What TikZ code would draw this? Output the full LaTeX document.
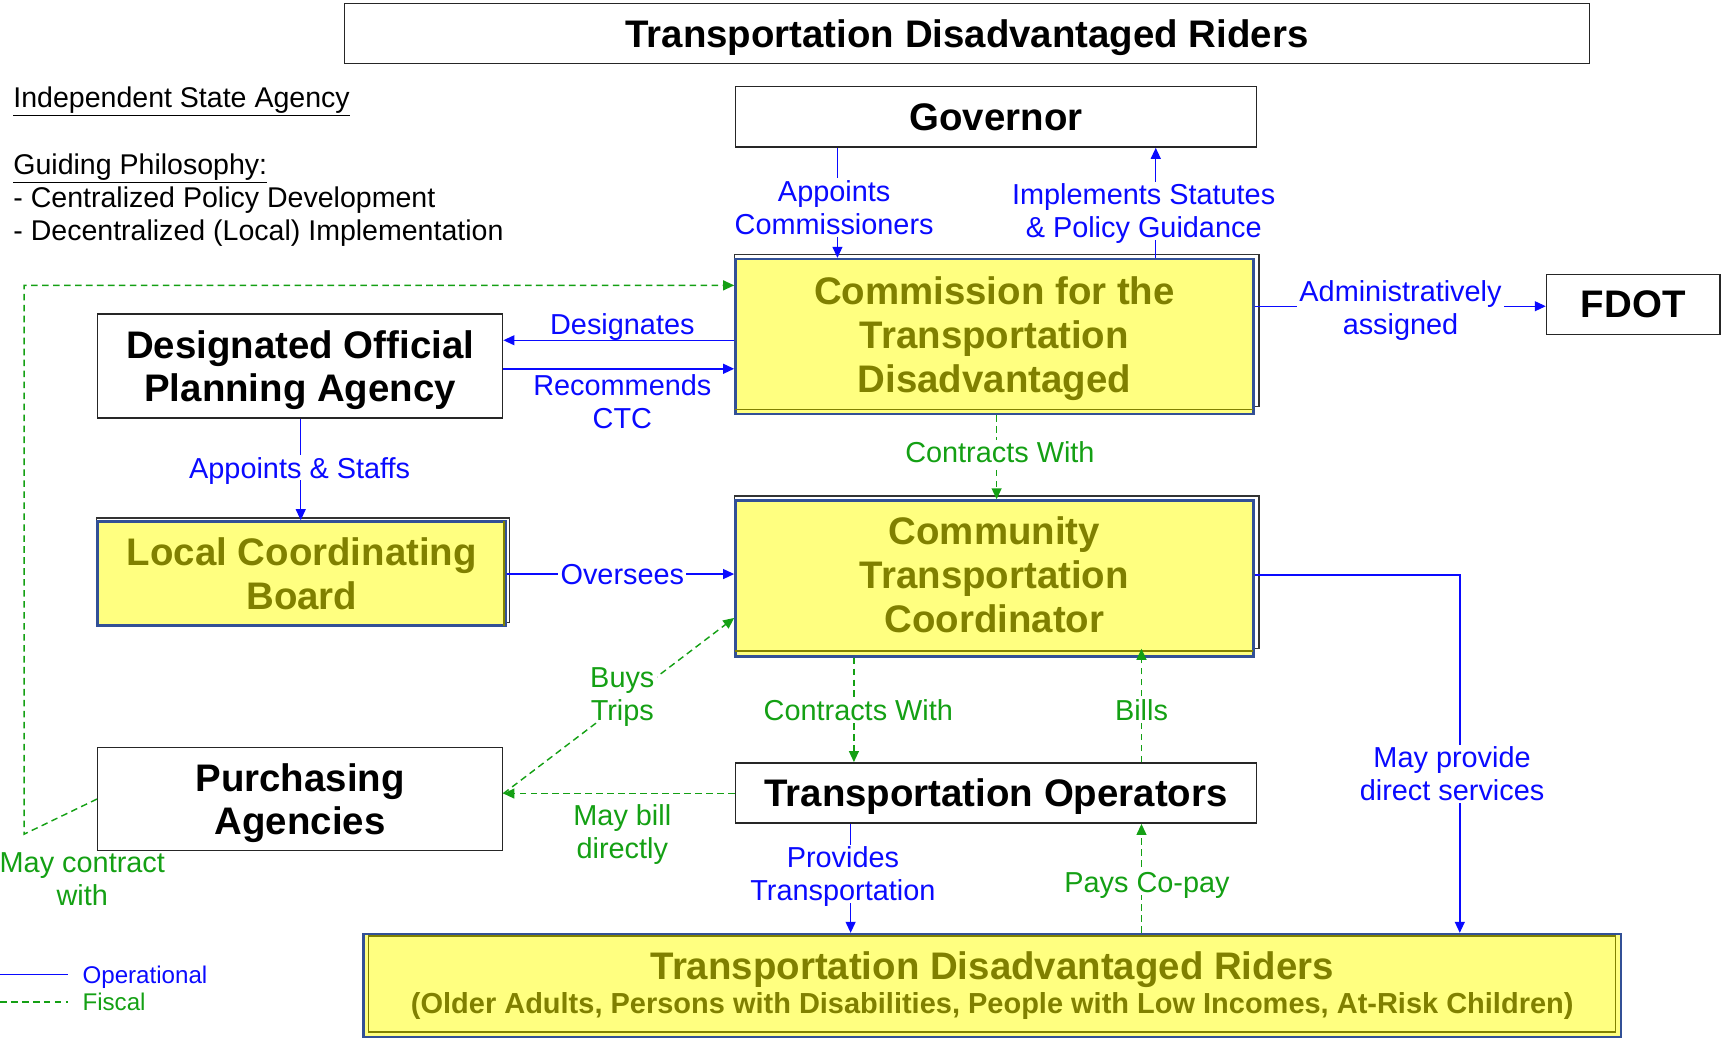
\documentclass[tikz,border=0pt]{standalone}
\usepackage{fontspec}
\setmainfont{Liberation Sans}
\usetikzlibrary{arrows.meta,backgrounds}
\definecolor{lblue}{RGB}{10,10,255}
\definecolor{lgreen}{RGB}{20,160,20}
\definecolor{oliv}{RGB}{128,128,0}
\definecolor{byel}{RGB}{255,255,128}
\definecolor{bblue}{RGB}{50,80,150}
\begin{document}
\begin{tikzpicture}[x=1pt,y=-1pt,
  box/.style={draw=black!85, line width=1.3pt, fill=white, inner sep=0pt, align=center,
    text depth=0pt, font=\fontsize{35}{40}\selectfont\bfseries},
  ybox/.style={draw=bblue, line width=2.2pt, fill=byel, inner sep=0pt, align=center,
    text depth=0pt, text=oliv, font=\fontsize{35}{40}\selectfont\bfseries},
  tipa/.style={-{Triangle[length=10pt,width=9pt]}},
  op/.style={draw=lblue, line width=1.3pt, tipa},
  fis/.style={draw=lgreen, line width=1.3pt, dash pattern=on 6pt off 4pt, tipa},
  lab/.style={font=\fontsize{26.3}{30}\selectfont, align=center, inner sep=2pt, text depth=0pt},
  blab/.style={lab, text=lblue},
  glab/.style={lab, text=lgreen},
  wf/.style={fill=white},
  lft/.style={anchor=base west, inner sep=0pt, font=\fontsize{26}{30}\selectfont},
  shad/.style={draw=black!80, line width=1pt},
  oline/.style={draw=oliv, line width=1.4pt}
]
\useasboundingbox (0,0) rectangle (1568,946);

% ---------- boxes ----------
\node[box, minimum width=1134pt, minimum height=55pt] (title) at (881,30.5) {Transportation Disadvantaged Riders};
\node[box, minimum width=475pt, minimum height=55pt] (gov) at (907.5,106.5) {Governor};
\node[ybox, minimum width=472pt, minimum height=141pt, text depth=4pt] (comm) at (906,306.5) {Commission for the\\Transportation\\Disadvantaged};
\node[box, minimum width=369pt, minimum height=95pt] (dopa) at (273.5,333.5) {Designated Official\\Planning Agency};
\node[ybox, minimum width=372pt, minimum height=95pt] (lcb) at (275,522.5) {Local Coordinating\\Board};
\node[ybox, minimum width=472pt, minimum height=142pt, text depth=7pt] (ctc) at (906,527) {Community\\Transportation\\Coordinator};
\node[box, minimum width=158pt, minimum height=55pt] (fdot) at (1488,277.5) {FDOT};
\node[box, minimum width=475pt, minimum height=55pt] (to) at (907.5,722.5) {Transportation Operators};
\node[box, minimum width=369pt, minimum height=94pt] (pa) at (273.5,728) {Purchasing\\Agencies};
\node[ybox, minimum width=1146pt, minimum height=94pt, text depth=5.5pt] (riders) at (904,898) {Transportation Disadvantaged Riders\\[-9pt]{\fontsize{26.4}{30}\selectfont (Older Adults, Persons with Disabilities, People with Low Incomes, At-Risk Children)}};

% shadows and inner lines of the yellow boxes
\begin{scope}[on background layer]
  \draw[shad] ([yshift=3pt]comm.north west) rectangle ([xshift=4pt,yshift=8pt]comm.south east);
  \draw[shad] ([yshift=3pt]ctc.north west) rectangle ([xshift=4pt,yshift=8pt]ctc.south east);
  \draw[shad] ([yshift=2pt]lcb.north west) rectangle ([xshift=2pt,yshift=4pt]lcb.south east);
\end{scope}
\draw[oline] ([xshift=1.2pt,yshift=5pt]comm.south west) -- ([xshift=-1.2pt,yshift=5pt]comm.south east);
\draw[oline] ([xshift=1.2pt,yshift=6pt]ctc.south west) -- ([xshift=-1.2pt,yshift=6pt]ctc.south east);
\draw[oline] ([xshift=-3pt,yshift=-1.2pt]lcb.north east) -- ([xshift=-3pt,yshift=1.2pt]lcb.south east);
\draw[oline, line width=1.2pt] ([xshift=6pt,yshift=-3pt]riders.north west) rectangle ([xshift=-6pt,yshift=6pt]riders.south east);

% ---------- helper coordinates ----------
\coordinate (xA) at (763,0);
\coordinate (xB) at (1053,0);
\coordinate (yF) at (0,279);
\coordinate (yD) at (0,310);
\coordinate (yR) at (0,336);
\coordinate (xL) at (274,0);
\coordinate (yO) at (0,523);
\coordinate (yO2) at (0,524);
\coordinate (xC) at (908,0);
\coordinate (xT) at (778,0);
\coordinate (xBi) at (1040,0);
\coordinate (xP) at (775,0);
\coordinate (xM) at (1330,0);
\coordinate (yMb) at (0,723);
\coordinate (yBT) at (0,563);
\coordinate (yPC) at (0,728);
\coordinate (yMc) at (0,260);
\coordinate (cL1) at (22,760);
\coordinate (cL2) at (22,260);

% ---------- connectors ----------
\draw[op] (gov.south -| xA) -- (comm.north -| xA);
\draw[op] (comm.north -| xB) -- (gov.south -| xB);
\draw[op] (comm.east |- yF) -- (fdot.west |- yF);
\draw[op] (comm.west |- yD) -- (dopa.east |- yD);
\draw[op] (dopa.east |- yR) -- (comm.west |- yR);
\draw[op] (dopa.south -| xL) -- (lcb.north -| xL);
\draw[op] (lcb.east |- yO) -- (ctc.west |- yO);
\draw[fis] (comm.south -| xC) -- (ctc.north -| xC);
\draw[fis] (ctc.south -| xT) -- (to.north -| xT);
\draw[fis] (to.north -| xBi) -- ([yshift=8pt]ctc.south -| xBi);
\draw[op] (to.south -| xP) -- (riders.north -| xP);
\draw[fis] (riders.north -| xBi) -- (to.south -| xBi);
\draw[op] (ctc.east |- yO2) -| (riders.north -| xM);
\draw[fis] (to.west |- yMb) -- (pa.east |- yMb);
\draw[fis] (pa.east |- yMb) -- (ctc.west |- yBT);
\draw[fis] (pa.west |- yPC) -- (cL1) -- (cL2) -- (comm.west |- yMc);

% ---------- labels ----------
\node[blab, wf] (lAC) at (760,189) {Appoints\\Commissioners};
\node[blab, wf] (lIS) at (1042,192) {Implements Statutes\\\& Policy Guidance};
\node[blab, wf] (lAA) at (1276,280) {Administratively\\assigned};
\node[blab] (lDe) at (567,295) {Designates};
\node[blab] (lRC) at (567,366) {Recommends\\CTC};
\node[blab, wf] (lAS) at (273,426) {Appoints \& Staffs};
\node[blab, wf] (lOv) at (567,523) {Oversees};
\node[glab, wf] (lCW1) at (911,412) {Contracts With};
\node[glab, wf] (lCW2) at (782,647) {Contracts With};
\node[glab, wf] (lBi) at (1040,647) {Bills};
\node[blab, wf] (lPT) at (768,796) {Provides\\Transportation};
\node[glab, wf] (lPC) at (1045,804) {Pays Co-pay};
\node[blab, wf] (lMP) at (1323,705) {May provide\\direct services};
\node[glab, wf] (lBT) at (567,632) {Buys\\Trips};
\node[glab] (lMB) at (567,758) {May bill\\directly};
\node[glab] (lMC) at (75,801) {May contract\\with};

% ---------- left texts ----------
\node[lft] (t1) at (12,98) {\underline{Independent State Agency}};
\node[lft] (t2) at (12,159) {\underline{Guiding Philosophy:}};
\node[lft] (t3) at (12,189) {- Centralized Policy Development};
\node[lft] (t4) at (12,219) {- Decentralized (Local) Implementation};

% ---------- legend ----------
\coordinate (lg1a) at (0,888);
\coordinate (lg1b) at (62,888);
\coordinate (lg2a) at (0,913);
\coordinate (lg2b) at (62,913);
\draw[draw=lblue, line width=1.3pt] (lg1a) -- (lg1b);
\draw[draw=lgreen, line width=1.3pt, dash pattern=on 6pt off 4pt] (lg2a) -- (lg2b);
\node[anchor=base west, inner sep=0pt, text=lblue, font=\fontsize{22}{26}\selectfont] (lgO) at (75,896) {Operational};
\node[anchor=base west, inner sep=0pt, text=lgreen, font=\fontsize{22}{26}\selectfont] (lgF) at (75,921) {Fiscal};
\end{tikzpicture}
\end{document}
